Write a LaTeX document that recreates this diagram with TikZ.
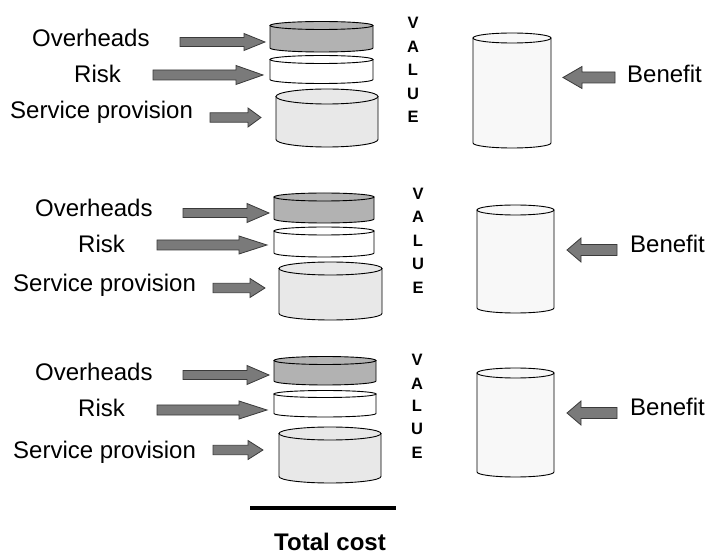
\documentclass[tikz,border=0pt]{standalone}
\usepackage{fontspec}
\setmainfont{Liberation Sans}
\definecolor{ohfill}{HTML}{B2B2B2}
\definecolor{spfill}{HTML}{E8E8E8}
\definecolor{bffill}{HTML}{F8F8F8}
\definecolor{arrfill}{HTML}{7A7A7A}
\definecolor{arredge}{HTML}{3A3A3A}
\tikzset{
  drumline/.style={draw=black,line width=0.9pt},
  blockarrow/.style={fill=arrfill,draw=arredge,line width=0.8pt,line join=miter},
  lbl/.style={inner sep=0,anchor=base west,font=\fontsize{24}{28}\selectfont},
  vlet/.style={inner sep=0,anchor=base,font=\bfseries\fontsize{16.5}{18}\selectfont},
}
% drum: xl, xr, ytop, ybot, ry, fill
\newcommand\drum[6]{%
  \pgfmathsetmacro\drx{(#2-#1)/2}%
  \pgfmathsetmacro\dcx{(#1+#2)/2}%
  \filldraw[drumline,fill=#6] (#1,#3) -- (#1,#4) arc[start angle=180,end angle=0,x radius=\drx,y radius=#5] -- (#2,#3) -- cycle;
  \filldraw[drumline,fill=#6] (\dcx,#3) ellipse[x radius=\drx,y radius=#5];
}
% right arrow: x tail, x head base, x tip, y, shaft half, head half
\newcommand\rarrow[6]{%
  \filldraw[blockarrow] (#1,#4-#5) -- (#2,#4-#5) -- (#2,#4-#6) -- (#3,#4) -- (#2,#4+#6) -- (#2,#4+#5) -- (#1,#4+#5) -- cycle;
}
\begin{document}
\begin{tikzpicture}[x=1pt,y=-1pt]
\useasboundingbox (0,0) rectangle (705,556);

% ---------- block 1 ----------
\drum{270}{373}{25.5}{48}{4}{ohfill}
\drum{270}{373}{59.5}{79.5}{4}{white}
\drum{276}{378}{96.5}{139.5}{7.5}{spfill}
\drum{473}{551}{38}{143}{5}{bffill}
\rarrow{180}{244}{265}{42}{4.5}{8.5}
\rarrow{153}{236}{263}{75}{5}{9.5}
\rarrow{210}{248}{261}{117.5}{4.7}{9.5}
\rarrow{615}{582}{563}{77.5}{5.5}{11}
\node[lbl] (oh1) at (32,47) {Overheads};
\node[lbl] (rk1) at (74,83) {Risk};
\node[lbl] (sp1) at (10,119) {Service provision};
\node[lbl] (bf1) at (627,83) {Benefit};
\foreach \L [count=\i] in {V,A,L,U,E}
  \node[vlet] (va\i) at (413,{29+23.4*(\i-1)}) {\L};

% ---------- block 2 ----------
\drum{274}{374}{197}{219}{4}{ohfill}
\drum{274}{374}{231}{253}{4}{white}
\drum{279}{382}{268.5}{313.5}{6.5}{spfill}
\drum{477}{554}{210}{308}{5}{bffill}
\rarrow{183}{247}{269}{213}{4.5}{9.5}
\rarrow{157}{239}{267}{245}{5}{9}
\rarrow{213}{250}{265}{288}{4.7}{9.5}
\rarrow{617}{581}{567}{250}{5.5}{12}
\node[lbl] (oh2) at (35,217) {Overheads};
\node[lbl] (rk2) at (78,253) {Risk};
\node[lbl] (sp2) at (13,292) {Service provision};
\node[lbl] (bf2) at (630,253) {Benefit};
\foreach \L [count=\i] in {V,A,L,U,E}
  \node[vlet] (vb\i) at (418,{199.5+23.5*(\i-1)}) {\L};

% ---------- block 3 ----------
\drum{274}{376}{360.5}{381}{4}{ohfill}
\drum{274}{376}{394}{413.5}{3.5}{white}
\drum{279}{381}{433.5}{476.5}{6.5}{spfill}
\drum{477}{554}{373}{472}{5}{bffill}
\rarrow{183}{247}{269}{375}{4.5}{9.5}
\rarrow{157}{239}{267}{410}{5}{9}
\rarrow{213}{248}{263}{450}{4.7}{9.5}
\rarrow{617}{581}{567}{413}{5.5}{12}
\node[lbl] (oh3) at (35,381) {Overheads};
\node[lbl] (rk3) at (78,417) {Risk};
\node[lbl] (sp3) at (13,458) {Service provision};
\node[lbl] (bf3) at (630,415) {Benefit};
\foreach \L [count=\i] in {V,A,L,U,E}
  \node[vlet] (vc\i) at (417,{366+23*(\i-1)}) {\L};

% ---------- total cost ----------
\coordinate (tcl) at (250,508);
\coordinate (tcr) at (396,508);
\draw[line width=4pt] (tcl) -- (tcr);
\node[inner sep=0,anchor=base,font=\bfseries\fontsize{24}{28}\selectfont] (tc) at (330,550) {Total cost};
\end{tikzpicture}
\end{document}
